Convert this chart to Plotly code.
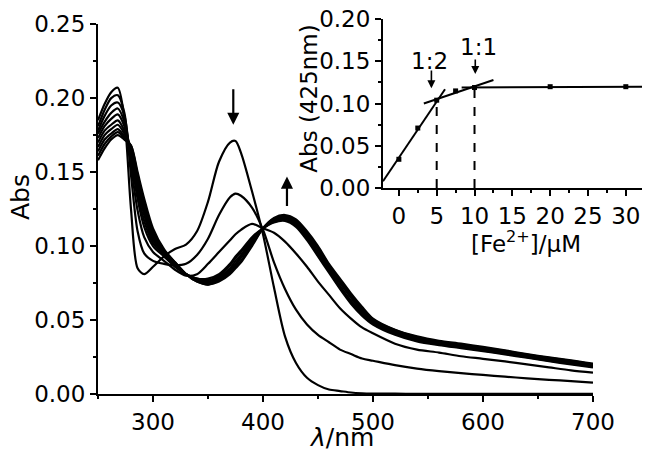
import plotly.graph_objects as go

# ---------------- main spectra data ----------------
wavelength = [250, 256, 262, 268, 274, 280, 286, 292, 300, 310, 320, 330, 340, 350, 360, 370, 375,
              380, 390, 400, 410, 420, 430, 440, 450, 460, 470, 480, 490, 500,
              520, 540, 560, 580, 600, 620, 640, 660, 680, 700]

spec_0 = [0.185, 0.196, 0.204, 0.207, 0.186, 0.125, 0.085, 0.081, 0.086,
          0.093, 0.098, 0.101, 0.110, 0.130, 0.157, 0.170, 0.171,
          0.163, 0.137, 0.108, 0.072, 0.039, 0.021, 0.011, 0.006, 0.003, 0.002, 0.001, 0.0005, 0.0003,
          0.0002, 0.0001, 0.0001, 0.0001, 0.0001, 0.0001, 0.0001, 0.0001, 0.0001, 0.0001]
spec_1 = [0.181, 0.192, 0.200, 0.202, 0.190, 0.148, 0.110, 0.095, 0.090,
          0.088, 0.087, 0.088, 0.094, 0.105, 0.121, 0.133, 0.1355,
          0.134, 0.126, 0.111, 0.089, 0.071, 0.057, 0.047, 0.040, 0.035, 0.030, 0.027, 0.024, 0.0225,
          0.0195, 0.0172, 0.0155, 0.0141, 0.0129, 0.0117, 0.0106, 0.0096, 0.0087, 0.0077]
spec_2 = [0.178, 0.188, 0.195, 0.197, 0.188, 0.155, 0.124, 0.106, 0.096,
          0.090, 0.084, 0.080, 0.081, 0.088, 0.096, 0.104, 0.108,
          0.111, 0.115, 0.112, 0.109, 0.103, 0.095, 0.086, 0.076, 0.067, 0.058, 0.051, 0.045, 0.041,
          0.034, 0.030, 0.028, 0.0255, 0.0238, 0.022, 0.020, 0.018, 0.016, 0.0145]
spec_3 = [0.176, 0.184, 0.190, 0.193, 0.184, 0.160, 0.132, 0.113, 0.100,
          0.093, 0.086, 0.081, 0.078, 0.078, 0.081, 0.088, 0.093,
          0.097, 0.106, 0.112, 0.116, 0.117, 0.113, 0.104, 0.093, 0.082, 0.071, 0.061, 0.053, 0.047,
          0.040, 0.0355, 0.033, 0.031, 0.029, 0.0268, 0.0245, 0.0222, 0.020, 0.018]
spec_4 = [0.173, 0.181, 0.186, 0.189, 0.181, 0.162, 0.136, 0.117, 0.102,
          0.094, 0.087, 0.081, 0.078, 0.077, 0.080, 0.087, 0.092,
          0.096, 0.105, 0.112, 0.1165, 0.118, 0.114, 0.105, 0.094, 0.083, 0.072, 0.062, 0.054, 0.048,
          0.0408, 0.0362, 0.0335, 0.0315, 0.0295, 0.0272, 0.0249, 0.0226, 0.0205, 0.0184]
spec_5 = [0.170, 0.178, 0.182, 0.185, 0.178, 0.164, 0.140, 0.121, 0.104,
          0.095, 0.087, 0.081, 0.077, 0.076, 0.079, 0.085, 0.090,
          0.094, 0.104, 0.112, 0.117, 0.119, 0.115, 0.106, 0.095, 0.084, 0.073, 0.063, 0.055, 0.049,
          0.0415, 0.037, 0.034, 0.032, 0.030, 0.0277, 0.0253, 0.023, 0.021, 0.0188]
spec_6 = [0.167, 0.175, 0.179, 0.182, 0.176, 0.166, 0.143, 0.124, 0.106,
          0.096, 0.088, 0.081, 0.077, 0.075, 0.078, 0.084, 0.088,
          0.093, 0.103, 0.112, 0.1175, 0.1195, 0.116, 0.107, 0.096, 0.085, 0.075, 0.065, 0.056, 0.0495,
          0.042, 0.0375, 0.0345, 0.0325, 0.0305, 0.0282, 0.0258, 0.0235, 0.0215, 0.0193]
spec_7 = [0.164, 0.172, 0.176, 0.179, 0.174, 0.167, 0.146, 0.127, 0.108,
          0.097, 0.088, 0.081, 0.077, 0.075, 0.077, 0.083, 0.087,
          0.092, 0.102, 0.112, 0.118, 0.120, 0.117, 0.108, 0.098, 0.086, 0.076, 0.066, 0.057, 0.050,
          0.0428, 0.038, 0.035, 0.033, 0.031, 0.0287, 0.0263, 0.024, 0.022, 0.0197]
spec_8 = [0.161, 0.169, 0.174, 0.177, 0.173, 0.168, 0.148, 0.130, 0.110,
          0.097, 0.089, 0.081, 0.076, 0.074, 0.077, 0.082, 0.086,
          0.090, 0.101, 0.112, 0.1185, 0.1205, 0.1175, 0.109, 0.099, 0.087, 0.077, 0.067, 0.058, 0.0505,
          0.0432, 0.0385, 0.0355, 0.0335, 0.0314, 0.0291, 0.0267, 0.0244, 0.0224, 0.0201]
spec_9 = [0.158, 0.166, 0.172, 0.175, 0.172, 0.168, 0.150, 0.132, 0.112,
          0.098, 0.089, 0.081, 0.076, 0.074, 0.076, 0.081, 0.085,
          0.089, 0.100, 0.112, 0.119, 0.121, 0.118, 0.110, 0.100, 0.088, 0.078, 0.068, 0.059, 0.051,
          0.0435, 0.039, 0.036, 0.034, 0.0318, 0.0295, 0.027, 0.0248, 0.0228, 0.0205]

spectra = [spec_0, spec_1, spec_2, spec_3, spec_4, spec_5, spec_6, spec_7, spec_8, spec_9]

# ---------------- inset data ----------------
fe_conc = [0, 2.5, 5, 7.5, 10, 20, 30]
abs_425 = [0.034, 0.071, 0.104, 0.115, 0.119, 0.120, 0.120]
fit1_x = [-2.1, 6.1]
fit1_y = [0.008, 0.117]
fit2_x = [3.3, 12.5]
fit2_y = [0.100, 0.128]
fit3_x = [8.3, 32.8]
fit3_y = [0.119, 0.120]
ratio_12_x = [5, 5]
ratio_12_y = [0, 0.104]
ratio_11_x = [10, 10]
ratio_11_y = [0, 0.119]

FONT = "DejaVu Sans"
fig = go.Figure()

for s in spectra:
    fig.add_trace(go.Scatter(x=wavelength, y=s, mode="lines",
                             line=dict(color="black", width=2.2, shape="spline", smoothing=0.8),
                             xaxis="x", yaxis="y", showlegend=False))

# inset traces
for fx, fy in [(fit1_x, fit1_y), (fit2_x, fit2_y), (fit3_x, fit3_y)]:
    fig.add_trace(go.Scatter(x=fx, y=fy, mode="lines", line=dict(color="black", width=2),
                             xaxis="x2", yaxis="y2", showlegend=False))
for dx, dy in [(ratio_12_x, ratio_12_y), (ratio_11_x, ratio_11_y)]:
    fig.add_trace(go.Scatter(x=dx, y=dy, mode="lines", line=dict(color="black", width=2, dash="dash"),
                             xaxis="x2", yaxis="y2", showlegend=False))
fig.add_trace(go.Scatter(x=fe_conc, y=abs_425, mode="markers",
                         marker=dict(symbol="square", size=5, color="black"),
                         xaxis="x2", yaxis="y2", showlegend=False))

axis_common = dict(showline=True, linecolor="black", linewidth=2, ticks="outside",
                   tickcolor="black", tickwidth=2, ticklen=6, showgrid=False, zeroline=False,
                   automargin=False, ticklabeloverflow="allow",
                   tickfont=dict(family=FONT, size=23, color="black"))

# the page body adds an 8px margin, so the figure is sized/offset to compensate
fig.update_layout(
    width=642, height=443,
    margin=dict(l=90, r=3, t=5, b=57),
    paper_bgcolor="white", plot_bgcolor="rgba(0,0,0,0)",
    xaxis=dict(domain=[0, 0.9016], range=[250, 700], tick0=300, dtick=100, anchor="y",
               minor=dict(dtick=50, tick0=250, ticks="outside", ticklen=3, tickwidth=2, tickcolor="black"),
               **axis_common),
    yaxis=dict(domain=[0, 0.9711], range=[0, 0.2501], dtick=0.05, tickformat=".2f", anchor="x",
               minor=dict(dtick=0.025, ticks="outside", ticklen=3, tickwidth=2, tickcolor="black"),
               **axis_common),
    xaxis2=dict(domain=[0.5191, 1.0], range=[-2.1, 32.8], tick0=0, dtick=5, anchor="y2",
                minor=dict(dtick=2.5, tick0=0, ticks="outside", ticklen=3, tickwidth=2, tickcolor="black"),
                **axis_common),
    yaxis2=dict(domain=[0.5407, 0.9843], range=[0, 0.2002], dtick=0.05, tickformat=".2f", anchor="x2",
                minor=dict(dtick=0.025, ticks="outside", ticklen=3, tickwidth=2, tickcolor="black"),
                **axis_common),
)

ann_font = dict(family=FONT, size=23, color="black")
center = dict(xanchor="center", yanchor="middle", showarrow=False)
annotations = [
    dict(text="Abs", x=-0.142, y=0.517, xref="paper", yref="paper", textangle=-90,
         font=dict(family=FONT, size=25, color="black"), **center),
    dict(text="<i>λ</i>/nm", x=0.4444, y=-0.113, xref="paper", yref="paper",
         font=dict(family=FONT, size=25, color="black"), **center),
    dict(text="Abs (425nm)", x=0.3843, y=0.775, xref="paper", yref="paper", textangle=-90,
         font=ann_font, **center),
    dict(text="[Fe<sup>2+</sup>]/μM", x=0.7796, y=0.400, xref="paper", yref="paper",
         font=ann_font, **center),
    dict(text="1:2", x=4.1, y=0.150, xref="x2", yref="y2", font=ann_font, **center),
    dict(text="1:1", x=10.5, y=0.167, xref="x2", yref="y2", font=ann_font, **center),
    # main plot arrows
    dict(x=373, y=0.182, ax=373, ay=0.207, xref="x", yref="y", axref="x", ayref="y",
         text="", showarrow=True, arrowhead=2, arrowsize=1.1, arrowwidth=2.2, arrowcolor="black"),
    dict(x=421.8, y=0.147, ax=421.8, ay=0.126, xref="x", yref="y", axref="x", ayref="y",
         text="", showarrow=True, arrowhead=2, arrowsize=1.1, arrowwidth=2.2, arrowcolor="black"),
    # inset arrows
    dict(x=4.3, y=0.118, ax=4.3, ay=0.141, xref="x2", yref="y2", axref="x2", ayref="y2",
         text="", showarrow=True, arrowhead=2, arrowsize=1, arrowwidth=1.6, arrowcolor="black"),
    dict(x=10.1, y=0.135, ax=10.1, ay=0.154, xref="x2", yref="y2", axref="x2", ayref="y2",
         text="", showarrow=True, arrowhead=2, arrowsize=1, arrowwidth=1.6, arrowcolor="black"),
]
fig.update_layout(annotations=annotations)

fig.write_html("out.html")
